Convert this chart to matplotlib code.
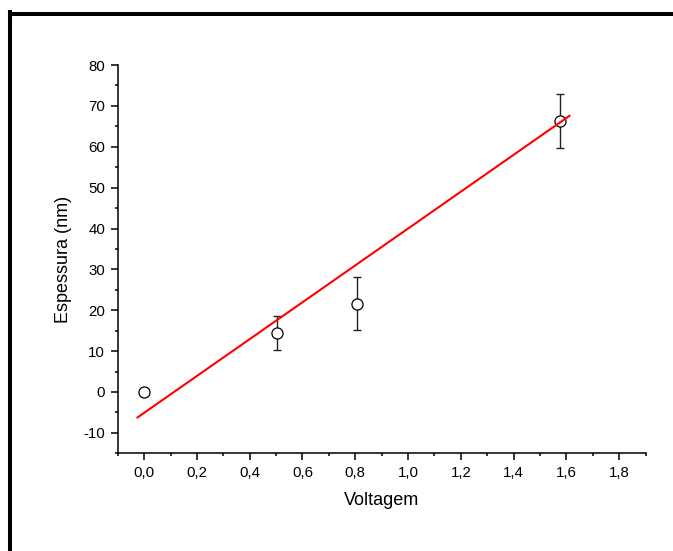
import numpy as np
import matplotlib.pyplot as plt
from matplotlib.lines import Line2D
from matplotlib.ticker import MultipleLocator, FuncFormatter

plt.rcParams['font.family'] = ['Liberation Sans', 'DejaVu Sans']

voltagem = [0.0, 0.504, 0.807, 1.576]
espessura = [0.1, 14.4, 21.6, 66.3]
erro = [0.0, 4.2, 6.5, 6.6]

# ajuste linear
intercepto = -5.1
inclinacao = 45.1
x_ajuste = [-0.025, 1.611]

fig = plt.figure(figsize=(6.73, 5.51), dpi=100)
ax = fig.add_axes([0.1749, 0.1773, 0.7845, 0.7047])

ax.errorbar(voltagem, espessura, yerr=erro, fmt='none', ecolor='#222222',
            elinewidth=1.0, capsize=2.9, capthick=1.0, zorder=2)
ax.plot(voltagem, espessura, 'o', mfc='white', mec='black', ms=8, mew=0.9, zorder=3)

xa = np.array(x_ajuste)
ax.plot(xa, intercepto + inclinacao * xa, color='red', lw=1.5, zorder=4)

ax.set_xlim(-0.1, 1.9)
ax.set_ylim(-15, 80)
ax.xaxis.set_major_locator(MultipleLocator(0.2))
ax.xaxis.set_minor_locator(MultipleLocator(0.1))
ax.yaxis.set_major_locator(MultipleLocator(10))
ax.yaxis.set_minor_locator(MultipleLocator(5))
ax.xaxis.set_major_formatter(FuncFormatter(lambda v, p: f'{v:.1f}'.replace('.', ',').replace('-0,0', '0,0')))
ax.yaxis.set_major_formatter(FuncFormatter(lambda v, p: f'{v:.0f}'))

for s in ['top', 'right']:
    ax.spines[s].set_visible(False)
for s in ['left', 'bottom']:
    ax.spines[s].set_linewidth(1.1)
ax.tick_params(which='major', direction='out', length=5, width=1.1, labelsize=10.8, pad=4)
ax.tick_params(which='minor', direction='out', length=2.5, width=1.1)

ax.set_xlabel('Voltagem', fontsize=13, labelpad=9)
ax.set_ylabel('Espessura (nm)', fontsize=13, labelpad=8)

# moldura da página
fig.add_artist(Line2D([9.5 / 673, 9.5 / 673], [0, 1 - 12 / 551], color='black', lw=2.9,
                      transform=fig.transFigure, solid_capstyle='projecting'))
fig.add_artist(Line2D([9.5 / 673, 1], [1 - 13.5 / 551, 1 - 13.5 / 551], color='black', lw=2.9,
                      transform=fig.transFigure, solid_capstyle='projecting'))

fig.savefig('out.png', dpi=100)
